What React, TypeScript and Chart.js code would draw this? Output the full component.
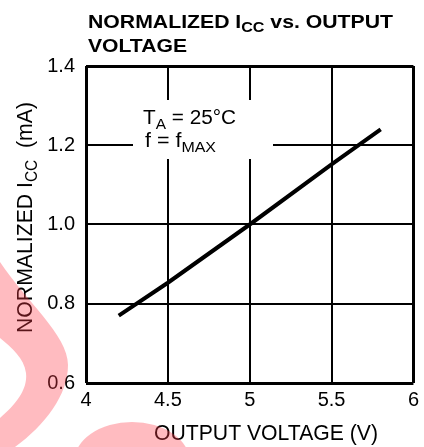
import { useEffect, useRef } from "react";
import { Chart, registerables } from "chart.js";

Chart.register(...registerables);

const voltage = [4.2, 4.5, 5.0, 5.5, 5.8];
const normIcc = [0.77, 0.853, 1.0, 1.152, 1.24];
const xTickLabels = ["4", "4.5", "5", "5.5", "6"];
const yTickLabels = ["0.6", "0.8", "1.0", "1.2", "1.4"];

type Run = { t: string; size: number; dy?: number };

const titleLine1: Run[] = [
  { t: "NORMALIZED I", size: 18.5 },
  { t: "CC", size: 14, dy: 4 },
  { t: " vs. OUTPUT", size: 18.5 },
];
const titleLine2: Run[] = [{ t: "VOLTAGE", size: 18.5 }];
const yTitle: Run[] = [
  { t: "NORMALIZED I", size: 22 },
  { t: "CC", size: 16, dy: 5 },
  { t: "  (mA)", size: 22 },
];
const xTitle: Run[] = [{ t: "OUTPUT VOLTAGE (V)", size: 22 }];
const noteLine1: Run[] = [
  { t: "T", size: 19.5 },
  { t: "A", size: 14.5, dy: 5 },
  { t: " = 25°C", size: 19.5 },
];
const noteLine2: Run[] = [
  { t: "f = f", size: 19.5 },
  { t: "MAX", size: 14.5, dy: 5 },
];

const FONT = '"Liberation Sans", Arial, sans-serif';

function drawRuns(
  ctx: CanvasRenderingContext2D,
  runs: Run[],
  x: number,
  y: number,
  target: number,
  bold: boolean,
  rotate = false
) {
  ctx.save();
  const f = (s: number) => `${bold ? "bold " : ""}${s}px ${FONT}`;
  let total = 0;
  for (const r of runs) {
    ctx.font = f(r.size);
    total += ctx.measureText(r.t).width;
  }
  const sx = target / total;
  ctx.translate(x, y);
  if (rotate) ctx.rotate(-Math.PI / 2);
  ctx.scale(sx, 1);
  ctx.fillStyle = "#000";
  ctx.textAlign = "left";
  ctx.textBaseline = "alphabetic";
  let cx = 0;
  for (const r of runs) {
    ctx.font = f(r.size);
    ctx.fillText(r.t, cx, r.dy || 0);
    cx += ctx.measureText(r.t).width;
  }
  ctx.restore();
}

const decorPlugin = {
  id: "decor",
  beforeDatasetsDraw(chart: any) {
    const ctx: CanvasRenderingContext2D = chart.ctx;
    ctx.save();
    ctx.fillStyle = "#fff";
    ctx.fillRect(133, 100, 140, 59);
    ctx.restore();
    drawRuns(ctx, noteLine1, 143, 124, 93, false);
    drawRuns(ctx, noteLine2, 145, 147, 71, false);
  },
  afterDraw(chart: any) {
    const ctx: CanvasRenderingContext2D = chart.ctx;
    drawRuns(ctx, titleLine1, 88, 28, 305, true);
    drawRuns(ctx, titleLine2, 88, 51.5, 99, true);
    drawRuns(ctx, yTitle, 31.5, 333, 231, false, true);
    drawRuns(ctx, xTitle, 154, 440, 224, false);

    // pink watermark overlay
    ctx.save();
    ctx.fillStyle = "rgba(255, 60, 75, 0.35)";
    ctx.beginPath();
    ctx.moveTo(0, 262);
    ctx.bezierCurveTo(25, 300, 68, 335, 68, 365);
    ctx.bezierCurveTo(68, 395, 45, 425, 15, 447);
    ctx.lineTo(0, 447);
    ctx.lineTo(0, 418);
    ctx.bezierCurveTo(15, 405, 28, 390, 26, 373);
    ctx.bezierCurveTo(24, 358, 12, 348, 0, 338);
    ctx.closePath();
    ctx.fill();
    ctx.beginPath();
    ctx.ellipse(132, 462, 58, 40, 0, 0, Math.PI * 2);
    ctx.fill();
    ctx.restore();
  },
};

export default function App() {
  const ref = useRef<HTMLCanvasElement>(null);
  useEffect(() => {
    if (!ref.current) return;
    const edgeWidth = (c: any) =>
      c.index === 0 || c.index === (c.scale?.ticks?.length ?? 5) - 1 ? 3 : 2;
    const chart = new Chart(ref.current, {
      type: "line",
      data: {
        datasets: [
          {
            data: voltage.map((v, i) => ({ x: v, y: normIcc[i] })),
            borderColor: "#000",
            borderWidth: 4,
            pointRadius: 0,
            tension: 0,
            fill: false,
          },
        ],
      },
      options: {
        animation: false,
        responsive: true,
        maintainAspectRatio: false,
        layout: { padding: { top: 66, right: 10, left: 0, bottom: 0 } },
        plugins: {
          legend: { display: false },
          tooltip: { enabled: false },
          title: { display: false },
        },
        scales: {
          x: {
            type: "linear",
            min: 4,
            max: 6,
            afterFit: (s: any) => {
              s.height = 64;
            },
            ticks: {
              stepSize: 0.5,
              color: "#000",
              font: { family: FONT, size: 20 },
              padding: 5,
              maxRotation: 0,
              callback: (_v: any, i: number) => xTickLabels[i],
            },
            grid: { color: "#000", lineWidth: edgeWidth, drawTicks: false },
            border: { display: false },
          },
          y: {
            type: "linear",
            min: 0.6,
            max: 1.4,
            afterFit: (s: any) => {
              s.width = 86;
            },
            ticks: {
              stepSize: 0.2,
              color: "#000",
              font: { family: FONT, size: 20 },
              padding: 11,
              callback: (_v: any, i: number) => yTickLabels[i],
            },
            grid: { color: "#000", lineWidth: edgeWidth, drawTicks: false },
            border: { display: false },
          },
        },
      },
      plugins: [decorPlugin],
    });
    return () => chart.destroy();
  }, []);
  return (
    <div style={{ position: "absolute", left: 0, top: 0, width: 424, height: 447 }}>
      <canvas ref={ref} />
    </div>
  );
}
